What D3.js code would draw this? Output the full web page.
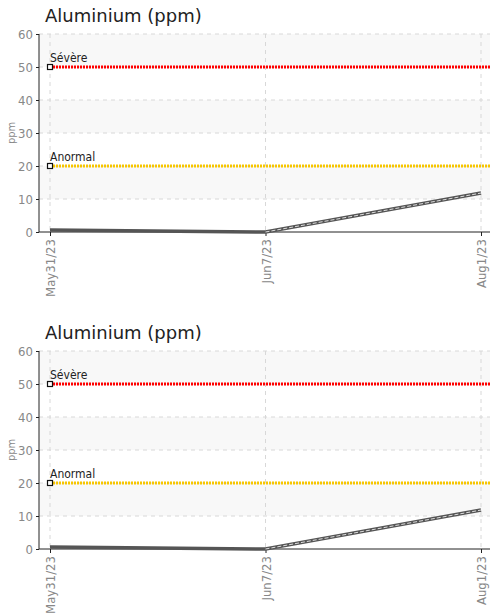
<!DOCTYPE html>
<html>
<head>
<meta charset="utf-8">
<script src="https://cdn.jsdelivr.net/npm/d3@7"></script>
<style>
  body { margin: 0; background: #fff; }
  svg { display: block; }
  .cond { font-family: "Liberation Sans Narrow", "DejaVu Sans Condensed", "Roboto Condensed", "Roboto", sans-serif; }
</style>
</head>
<body>
<svg id="graphic" width="490" height="615"></svg>
<script>
// data
let dates = ["May31/23", "Jun7/23", "Aug1/23"];
let values = [0.6, 0, 11.8];
let limitNames = ["Sévère", "Anormal"];
let limitValues = [50, 20];
let limitColors = ["#ff0000", "#f7c600"];
let yTicks = [0, 10, 20, 30, 40, 50, 60];
let title = "Aluminium (ppm)";
let unit = "ppm";

let svg = d3.select('#graphic');

function render_chart(top) {
    let g = svg.append('g').attr('transform', `translate(0, ${top})`);
    let left = 39, right = 490, plotTop = 34, plotBottom = 232;

    let xScale = d3.scalePoint()
        .domain(dates)
        .range([50, 481]);

    let yScale = d3.scaleLinear()
        .domain([0, 60])
        .range([plotBottom, plotTop]);

    // title
    g.append('text')
        .attr('x', 45).attr('y', 22)
        .attr('font-family', '"DejaVu Sans", sans-serif')
        .attr('font-size', 18)
        .attr('fill', '#222')
        .text(title);

    // alternating bands
    let bands = d3.range(0, yTicks.length - 1).filter(i => i % 2 == 1);
    g.selectAll('.band')
        .data(bands)
        .enter()
        .append('rect')
        .attr('x', left)
        .attr('width', right - left)
        .attr('y', i => yScale(yTicks[i + 1]))
        .attr('height', i => yScale(yTicks[i]) - yScale(yTicks[i + 1]))
        .attr('fill', '#f8f8f8');

    // grid
    g.selectAll('.hgrid')
        .data(yTicks.slice(1))
        .enter()
        .append('line')
        .attr('x1', left).attr('x2', right)
        .attr('y1', d => yScale(d)).attr('y2', d => yScale(d))
        .attr('stroke', '#d8d8d8')
        .attr('stroke-dasharray', '4,4');

    g.selectAll('.vgrid')
        .data(dates)
        .enter()
        .append('line')
        .attr('x1', d => xScale(d)).attr('x2', d => xScale(d))
        .attr('y1', plotTop).attr('y2', plotBottom)
        .attr('stroke', '#d8d8d8')
        .attr('stroke-dasharray', '4,4');

    // axes
    let yAxis = d3.axisLeft(yScale).tickValues(yTicks).tickSize(3).tickPadding(3);
    let ya = g.append('g')
        .attr('transform', `translate(${left}, 0)`)
        .call(yAxis);
    ya.select('.domain').attr('stroke', '#222').attr('d', `M0,${plotTop}V${plotBottom}`);
    ya.selectAll('.tick line').attr('stroke', '#222');
    ya.selectAll('.tick text')
        .attr('class', 'cond')
        .attr('font-size', 13)
        .attr('fill', '#888');

    let xAxis = d3.axisBottom(xScale).tickSize(4).tickSizeOuter(0);
    let xa = g.append('g')
        .attr('transform', `translate(0, ${plotBottom})`)
        .call(xAxis);
    xa.select('.domain').attr('stroke', '#222').attr('d', `M${left},0H${right}`);
    xa.selectAll('.tick line').attr('stroke', '#222');
    xa.selectAll('.tick text')
        .attr('class', 'cond')
        .attr('font-size', 13)
        .attr('fill', '#888')
        .attr('text-anchor', 'end')
        .attr('dy', '0.35em')
        .attr('transform', 'translate(0, 7) rotate(-90)')
        .attr('x', 0).attr('y', 0);

    g.append('text')
        .attr('class', 'cond')
        .attr('transform', `translate(15, ${(plotTop + plotBottom) / 2}) rotate(-90)`)
        .attr('text-anchor', 'middle')
        .attr('font-size', 11)
        .attr('fill', '#888')
        .text(unit);

    // limit lines
    limitValues.forEach((v, i) => {
        g.append('line')
            .attr('x1', xScale(dates[0]) + 3).attr('x2', right)
            .attr('y1', yScale(v)).attr('y2', yScale(v))
            .attr('stroke', limitColors[i])
            .attr('stroke-width', 3)
            .attr('stroke-dasharray', '2,1');
        g.append('rect')
            .attr('x', xScale(dates[0]) - 2.5).attr('y', yScale(v) - 2.5)
            .attr('width', 5).attr('height', 5)
            .attr('fill', '#fff')
            .attr('stroke', '#111')
            .attr('stroke-width', 1.2);
        g.append('text')
            .attr('class', 'cond')
            .attr('x', xScale(dates[0])).attr('y', yScale(v) - 5)
            .attr('font-size', 12)
            .attr('fill', '#222')
            .text(limitNames[i]);
    });

    // data line
    let line = d3.line()
        .x((d, i) => xScale(dates[i]))
        .y(d => yScale(d));

    g.append('path')
        .attr('d', line(values))
        .attr('fill', 'none')
        .attr('stroke', '#555')
        .attr('stroke-width', 3.5);

    g.append('path')
        .attr('d', line.defined((d, i) => i > 0)(values))
        .attr('fill', 'none')
        .attr('stroke', '#ddd')
        .attr('stroke-width', 1)
        .attr('stroke-dasharray', '4,2');
}

render_chart(0);
render_chart(317);
</script>
</body>
</html>
